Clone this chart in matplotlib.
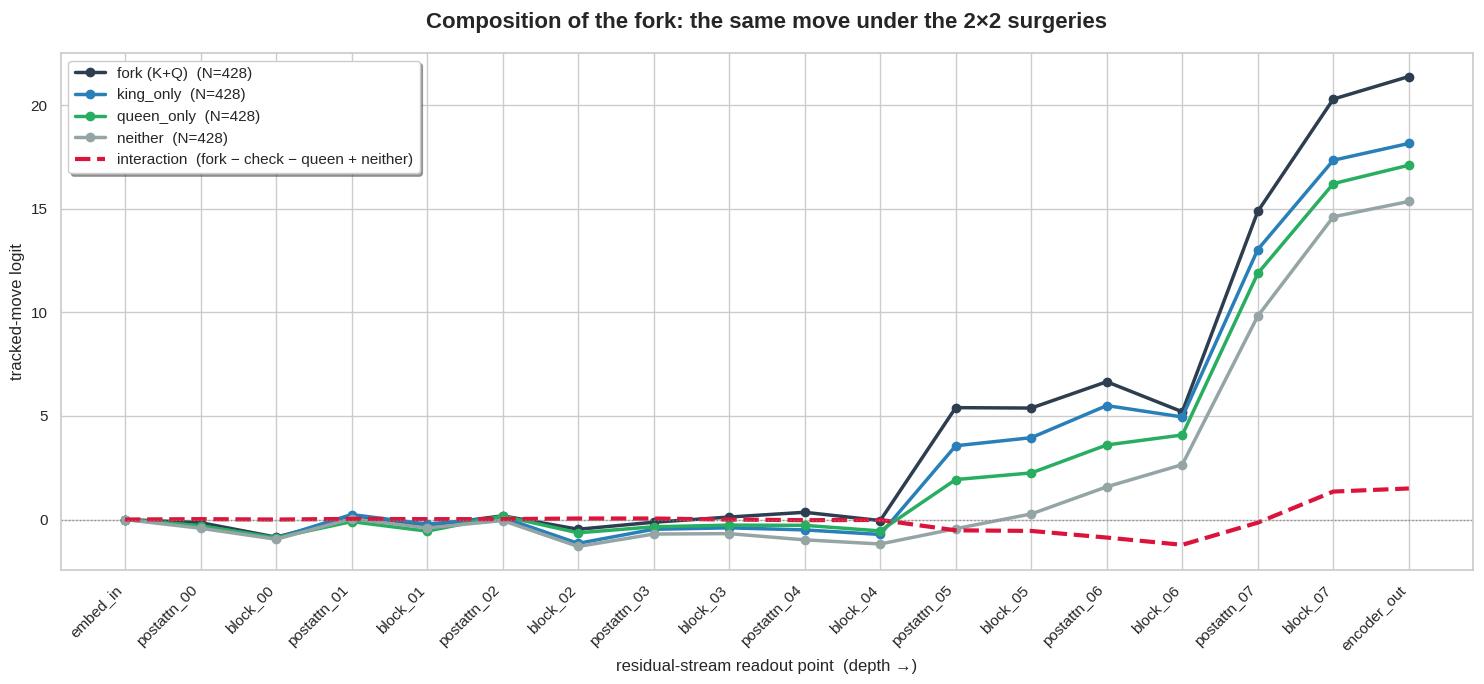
"""Fork composition: tracked-move logit across residual-stream readout points."""
import matplotlib
matplotlib.use('Agg')
import matplotlib.pyplot as plt
import seaborn as sns

readouts = ['embed_in', 'postattn_00', 'block_00', 'postattn_01', 'block_01',
            'postattn_02', 'block_02', 'postattn_03', 'block_03', 'postattn_04',
            'block_04', 'postattn_05', 'block_05', 'postattn_06', 'block_06',
            'postattn_07', 'block_07', 'encoder_out']

fork = [0.0, -0.15, -0.85, 0.08, -0.30, 0.18, -0.47, -0.13, 0.12, 0.35,
        -0.05, 5.40, 5.38, 6.65, 5.20, 14.87, 20.29, 21.38]
king_only = [0.0, -0.30, -0.90, 0.24, -0.22, 0.10, -1.15, -0.47, -0.40, -0.50,
             -0.72, 3.56, 3.95, 5.50, 4.95, 13.03, 17.34, 18.15]
queen_only = [0.0, -0.30, -0.88, -0.10, -0.56, 0.17, -0.64, -0.35, -0.27, -0.28,
              -0.55, 1.93, 2.25, 3.60, 4.08, 11.88, 16.21, 17.10]
neither = [0.0, -0.42, -0.95, 0.04, -0.40, -0.05, -1.30, -0.70, -0.68, -0.98,
           -1.18, -0.44, 0.27, 1.58, 2.65, 9.82, 14.61, 15.35]
interaction = [0.0, 0.02, 0.0, 0.03, 0.02, 0.02, 0.05, 0.05, 0.0, -0.03,
               -0.02, -0.52, -0.55, -0.87, -1.22, -0.15, 1.35, 1.50]

n_pos = 428

sns.set_theme(style='whitegrid')
plt.rcParams['font.family'] = ['Liberation Sans', 'DejaVu Sans']

fig, ax = plt.subplots(figsize=(14.84, 6.84), dpi=100)
x = list(range(len(readouts)))

series = [
    (fork, f'fork (K+Q)  (N={n_pos})', '#2c3e50'),
    (king_only, f'king_only  (N={n_pos})', '#2980b9'),
    (queen_only, f'queen_only  (N={n_pos})', '#27ae60'),
    (neither, f'neither  (N={n_pos})', '#95a5a6'),
]
for vals, label, color in series:
    ax.plot(x, vals, marker='o', markersize=6, linewidth=2.5, color=color, label=label)

ax.plot(x, interaction, linestyle='--', linewidth=3, color='#dc143c',
        label='interaction  (fork \u2212 check \u2212 queen + neither)')
ax.axhline(0, color='gray', linestyle=':', linewidth=1, alpha=0.8)

ax.set_xticks(x)
ax.set_xticklabels(readouts, rotation=45, ha='right')
ax.set_xlabel('residual-stream readout point  (depth \u2192)')
ax.set_ylabel('tracked-move logit')
ax.set_title('Composition of the fork: the same move under the 2\u00d72 surgeries',
             fontsize=16, fontweight='bold', pad=18)
ax.legend(loc='upper left', frameon=True, shadow=True, fancybox=True, fontsize=11)

fig.subplots_adjust(left=0.041, right=0.9926, top=0.9225, bottom=0.1667)
fig.savefig('out.png', dpi=100)
